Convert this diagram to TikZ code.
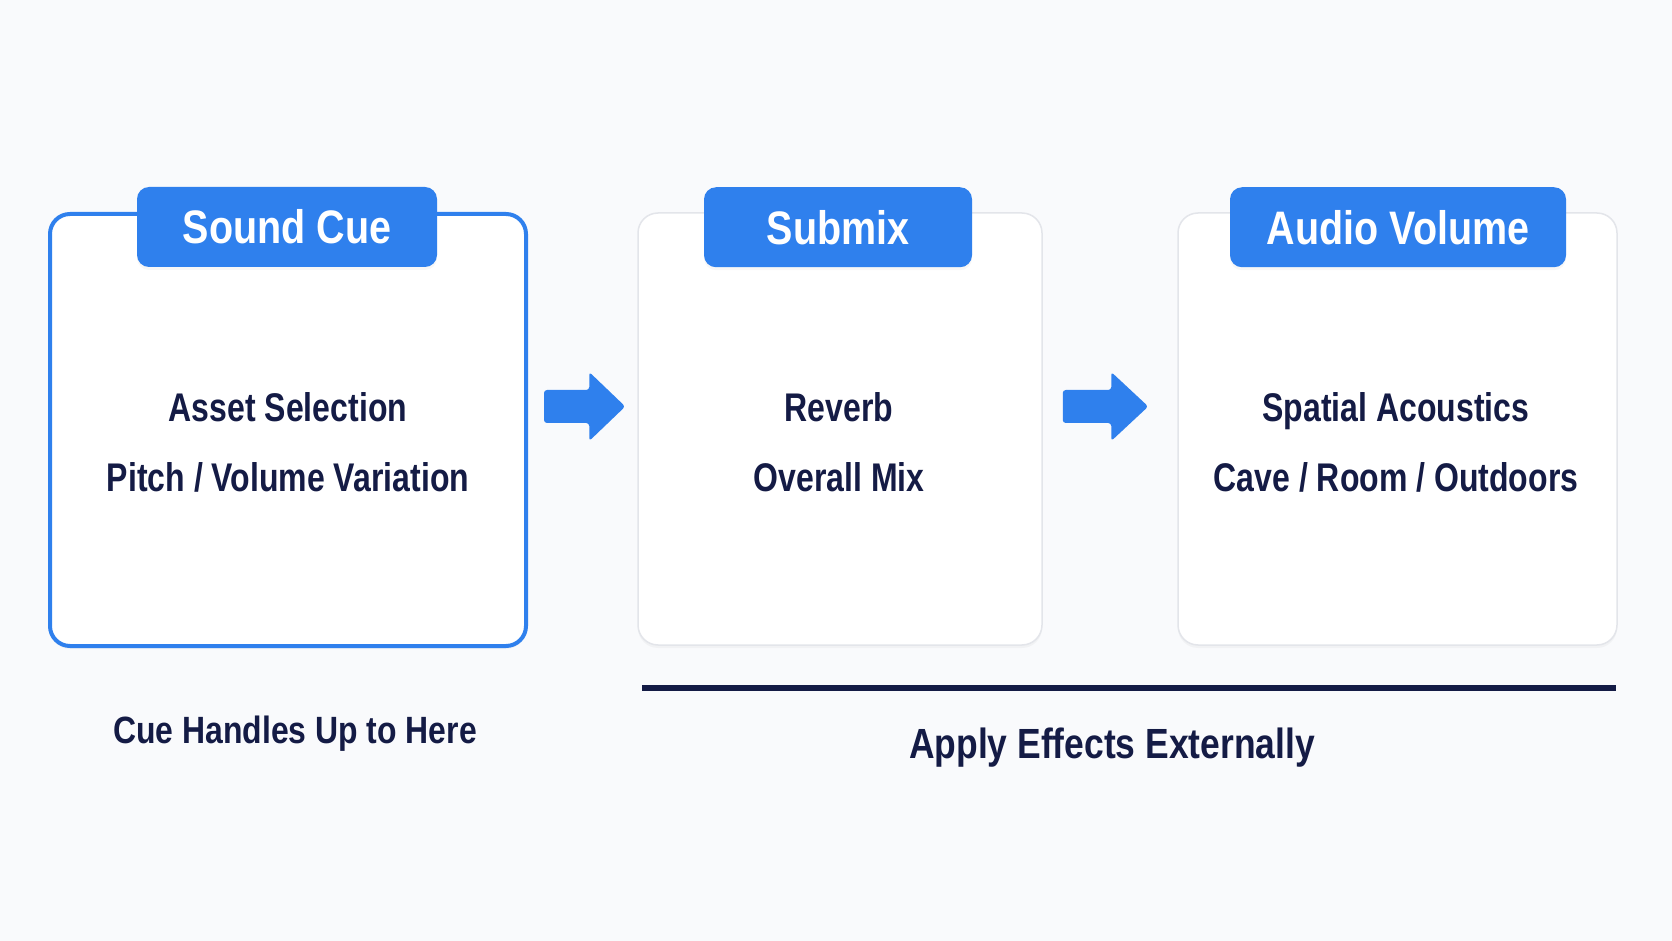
\documentclass[tikz,border=0pt]{standalone}
\usepackage{fontspec}
\newfontfamily\cf{Liberation Sans}[FakeStretch=0.84]
\newfontfamily\cfn{Liberation Sans}[FakeStretch=0.80]
\usetikzlibrary{shadows,calc}
\definecolor{cblue}{HTML}{2F80ED}
\definecolor{navy}{HTML}{141B45}
\definecolor{bgc}{HTML}{F9FAFC}
\definecolor{graybd}{HTML}{E3E5EA}
\tikzset{
  card/.style={rectangle, rounded corners=10pt, fill=white, inner sep=0pt},
  softshadow/.style={drop shadow={opacity=0.06, shadow xshift=0pt, shadow yshift=-1.5pt}},
  tabbox/.style={rectangle, rounded corners=6pt, fill=cblue, text=white, inner sep=0pt,
    font=\cf\bfseries\fontsize{23.5pt}{28pt}\selectfont, text height=16.8pt, text depth=0pt,
    minimum height=40pt, softshadow},
  bodytxt/.style={text=navy, inner sep=0pt, font=\cfn\bfseries\fontsize{20pt}{24pt}\selectfont},
  foottxt/.style={text=navy, inner sep=0pt},
  arrowfill/.style={fill=cblue, rounded corners=1.5pt}
}
\begin{document}
\begin{tikzpicture}[x=0.5pt,y=-0.5pt]
\fill[bgc] (0,0) rectangle (1672,941);
\useasboundingbox (0,0) rectangle (1672,941);

% cards
\node[card, draw=cblue, line width=2pt, minimum width=238pt, minimum height=216pt, softshadow] (b1) at (288,430) {};
\node[card, draw=graybd, line width=0.75pt, minimum width=202pt, minimum height=216pt, softshadow] (b2) at (840,429) {};
\node[card, draw=graybd, line width=0.75pt, minimum width=219.5pt, minimum height=216pt, softshadow] (b3) at (1397.5,429) {};

% tabs
\node[tabbox, minimum width=150pt] (t1) at ($(b1.north)+(-1,15)$) {Sound Cue};
\node[tabbox, minimum width=134pt] (t2) at ($(b2.north)+(-2,15)$) {Submix};
\node[tabbox, minimum width=168pt] (t3) at ($(b3.north)+(0.5,15)$) {Audio Volume};

% body texts
\node[bodytxt, anchor=base] (b1a) at (288,422) {Asset Selection};
\node[bodytxt, anchor=base] (b1b) at (288,491) {Pitch / Volume Variation};
\node[bodytxt, anchor=base] (b2a) at (839,422) {Reverb};
\node[bodytxt, anchor=base] (b2b) at (839,491) {Overall Mix};
\node[bodytxt, anchor=base] (b3a) at (1396,422) {Spatial Acoustics};
\node[bodytxt, anchor=base] (b3b) at (1396,491) {Cave / Room / Outdoors};

% block arrows
\coordinate (a1s) at ($(b1.east)+(16,-23.5)$);
\coordinate (a1e) at ($(b2.west)+(-12,-22.5)$);
\fill[arrowfill] ($(a1s)+(0,-16.5)$) -- ($(a1e)+(-36,-16.5)$) -- ($(a1e)+(-36,-34.5)$) -- (a1e)
  -- ($(a1e)+(-36,34.5)$) -- ($(a1e)+(-36,16.5)$) -- ($(a1s)+(0,16.5)$) -- cycle;
\coordinate (a2s) at ($(b2.east)+(20,-22.5)$);
\coordinate (a2e) at ($(b3.west)+(-29,-22.5)$);
\fill[arrowfill] ($(a2s)+(0,-16.5)$) -- ($(a2e)+(-37,-16.5)$) -- ($(a2e)+(-37,-34.5)$) -- (a2e)
  -- ($(a2e)+(-37,34.5)$) -- ($(a2e)+(-37,16.5)$) -- ($(a2s)+(0,16.5)$) -- cycle;

% footer
\node[foottxt, anchor=base, font=\cf\bfseries\fontsize{19pt}{23pt}\selectfont] (f1) at (295,743) {Cue Handles Up to Here};
\coordinate (l1) at (642,688);
\coordinate (l2) at (1616,688);
\draw[navy, line width=3pt] (l1) -- (l2);
\node[foottxt, anchor=base, font=\cf\bfseries\fontsize{21.1pt}{25pt}\selectfont] (f2) at (1112,758) {Apply Effects Externally};
\end{tikzpicture}
\end{document}
